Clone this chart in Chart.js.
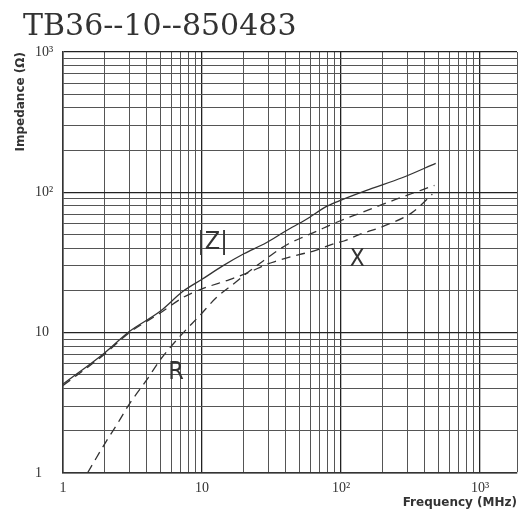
<!DOCTYPE html>
<html>
<head>
<meta charset="utf-8">
<script src="https://cdn.jsdelivr.net/npm/chart.js@4.4.1/dist/chart.umd.min.js"></script>
<style>body{margin:0;background:#fff}</style>
</head>
<body>
<canvas id="impedance-chart" width="524" height="513"></canvas>
<script>
// values (MHz / ohm)
const zFreq = [1, 2, 3, 5, 7.3, 10, 14, 20, 29, 40, 56, 80, 100, 160, 275, 480];
const zValues = [4.3, 7.2, 10.2, 14.2, 19.7, 24, 29.8, 36.5, 43.7, 53, 64, 80, 88, 105, 127, 161];
const rFreq = [1.5, 2, 2.5, 3, 4, 5, 7, 9.6, 12.7, 16.6, 22, 27.4, 33, 42, 56, 70, 82, 100, 142, 247, 470];
const rValues = [1.0, 1.62, 2.3, 3.1, 4.6, 6.4, 9.5, 13.2, 17.8, 22, 27.5, 32.3, 37, 43, 49, 54, 58, 63, 72, 89, 112];
const xFreq = [1, 2, 3, 5, 7.3, 10, 15.8, 22, 28.9, 34, 50, 62.5, 92, 105, 135, 199, 326, 454];
const xValues = [4.2, 7.05, 10.0, 13.8, 17.8, 20.5, 23.9, 27, 30.6, 32.3, 36, 38, 43.5, 45, 50, 57, 72, 97];

const decadeTicks = [1, 10, 100, 1000];
const decadeLabels = ['1', '10', '10²', '10³'];
const minorSteps = [2, 3, 4, 5, 6, 7, 8, 9];
const freqMax = 1845;

// curve names and where they sit (MHz, ohm)
const labelText = ['|Z|', 'X', 'R'];
const labelFreq = [11.9, 131, 6.5];
const labelImp = [44, 33, 5.2];

function toPoints(xs, ys) {
    return xs.map(function(v, i) { return {x: v, y: ys[i]}; });
}

let gridVals = [];
decadeTicks.forEach(function(d, i) {
    gridVals.push(d);
    if (i < decadeTicks.length - 1) {
        minorSteps.forEach(function(m) { gridVals.push(d * m); });
    }
});

function tickLabel(v) {
    const i = decadeTicks.indexOf(v);
    return i >= 0 ? decadeLabels[i] : '';
}

function gridColor(c) {
    return c.tick && decadeTicks.includes(c.tick.value) ? '#222' : '#555';
}

function gridWidth(c) {
    return c.tick && decadeTicks.includes(c.tick.value) ? 1.3 : 1;
}

const curveLabels = {
    id: 'curveLabels',
    afterLayout(chart) {
        const t = chart.titleBlock;
        if (t) {
            const w = t.right - t.left;
            t.left = 23;
            t.right = 23 + w;
        }
    },
    afterDatasetsDraw(chart) {
        const ctx = chart.ctx;
        const xs = chart.scales.x, ys = chart.scales.y;
        ctx.save();
        ctx.font = '25px "Liberation Sans Narrow", "DejaVu Sans Condensed", sans-serif';
        ctx.fillStyle = '#333';
        ctx.textAlign = 'center';
        ctx.textBaseline = 'middle';
        labelText.forEach(function(t, i) {
            ctx.fillText(t, xs.getPixelForValue(labelFreq[i]), ys.getPixelForValue(labelImp[i]));
        });
        ctx.restore();
    }
};

const tickFont = {family: '"Liberation Serif", serif', size: 14};
const axisTitleFont = {family: '"DejaVu Sans", sans-serif', size: 12, weight: 'bold'};

new Chart(document.getElementById('impedance-chart'), {
    type: 'line',
    data: {
        datasets: [
            {
                label: '|Z|',
                data: toPoints(zFreq, zValues),
                borderColor: '#333',
                borderWidth: 1.3,
            },
            {
                label: 'X',
                data: toPoints(xFreq, xValues),
                borderColor: '#333',
                borderWidth: 1.3,
                borderDash: [9, 6],
            },
            {
                label: 'R',
                data: toPoints(rFreq, rValues),
                borderColor: '#333',
                borderWidth: 1.3,
                borderDash: [9, 6],
            },
        ],
    },
    options: {
        responsive: false,
        animation: false,
        cubicInterpolationMode: 'monotone',
        pointRadius: 0,
        layout: {padding: {left: 35, right: 6, top: 0, bottom: 0}},
        plugins: {
            legend: {display: false},
            tooltip: {enabled: false},
            title: {
                display: true,
                text: 'TB36--10--850483',
                align: 'start',
                color: '#333',
                font: {family: '"DejaVu Serif", serif', size: 30, weight: 'normal'},
                padding: {top: 9, bottom: 7},
            },
        },
        scales: {
            x: {
                type: 'logarithmic',
                min: 1,
                max: freqMax,
                afterBuildTicks: function(s) {
                    s.ticks = gridVals.concat([freqMax]).map(function(v) { return {value: v}; });
                },
                afterFit: function(s) { s.height = 40; },
                grid: {drawTicks: false, color: gridColor, lineWidth: gridWidth},
                border: {color: '#333', width: 1.5},
                ticks: {
                    autoSkip: false,
                    maxRotation: 0,
                    padding: 7,
                    color: '#333',
                    font: tickFont,
                    callback: tickLabel,
                },
                title: {
                    display: true,
                    text: 'Frequency (MHz)',
                    align: 'end',
                    color: '#333',
                    font: axisTitleFont,
                    padding: {top: 0, bottom: 3},
                },
            },
            y: {
                type: 'logarithmic',
                min: 1,
                max: 1000,
                afterBuildTicks: function(s) {
                    s.ticks = gridVals.map(function(v) { return {value: v}; });
                },
                afterFit: function(s) { s.width = 28; },
                grid: {drawTicks: false, color: gridColor, lineWidth: gridWidth},
                border: {color: '#333', width: 1.5},
                ticks: {
                    autoSkip: false,
                    crossAlign: 'far',
                    color: '#333',
                    font: tickFont,
                    callback: tickLabel,
                },
                title: {
                    display: true,
                    text: 'Impedance (Ω)',
                    align: 'end',
                    color: '#333',
                    font: axisTitleFont,
                    padding: -21,
                },
            },
        },
    },
    plugins: [curveLabels],
});
</script>
</body>
</html>
